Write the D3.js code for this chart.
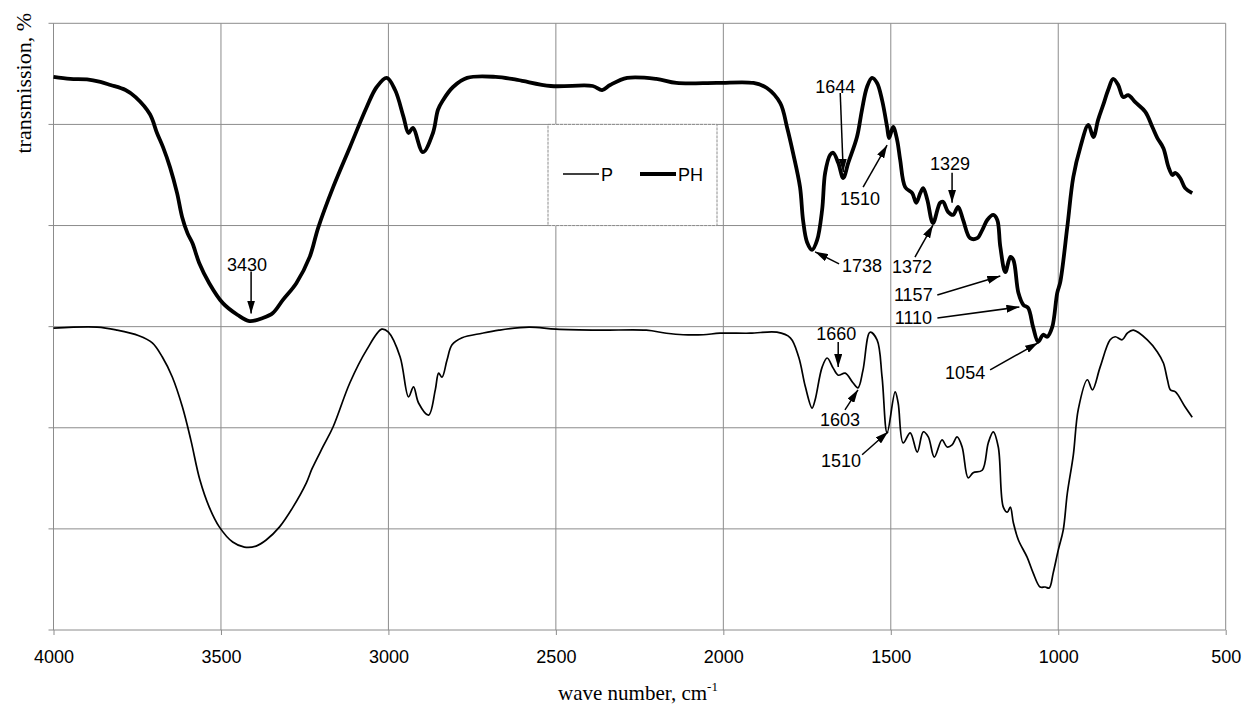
<!DOCTYPE html>
<html>
<head>
<meta charset="utf-8">
<script src="https://cdn.jsdelivr.net/npm/d3@7"></script>
<style>
  body { margin: 0; background: #fff; }
  svg { display: block; }
</style>
</head>
<body>
<div id="chart"></div>
<script>
// IR spectra, wave number (cm-1) vs transmission (arbitrary %)
var xTicks = [4000, 3500, 3000, 2500, 2000, 1500, 1000, 500];
var yGrid = [0, 20, 40, 60, 80, 100, 120];

var seriesNames = ["P", "PH"];

// PH (thick line)
var specPH = [[4000,109.4],[3950,109.0],[3900,108.9],[3860,108.4],[3830,107.8],[3785,106.8],[3755,105.4],[3712,102.0],
  [3691,98.3],[3673,95.5],[3652,91.5],[3631,86.4],[3616,81.7],[3600,78.5],[3585,76.5],[3565,72.6],[3535,68.6],[3495,64.7],
  [3450,62.3],[3415,61.1],[3375,61.7],[3345,62.7],[3315,65.3],[3275,68.6],[3235,73.8],[3210,79.5],[3165,87.6],
  [3115,95.5],[3065,103.4],[3035,107.4],[3005,109.2],[2980,106.8],[2955,101.5],[2940,98.3],[2927,99.3],[2897,94.5],
  [2867,98.3],[2852,102.9],[2837,104.8],[2807,107.4],[2765,109.2],[2680,109.4],[2615,108.8],[2515,107.6],[2390,107.6],
  [2362,106.8],[2338,107.8],[2287,109.2],[2200,109.0],[2140,108.2],[2020,108.2],[1910,108.2],[1870,107.2],[1830,104.2],
  [1810,99.5],[1792,94.4],[1771,87.6],[1762,81.1],[1750,76.7],[1735,75.2],[1720,77.1],[1705,83.1],[1696,90.4],
  [1681,94.0],[1672,94.4],[1657,92.4],[1642,89.4],[1627,92.4],[1601,97.5],[1586,102.9],[1571,107.4],[1556,109.2],
  [1541,108.2],[1526,104.8],[1511,99.5],[1505,97.3],[1493,99.5],[1481,96.9],[1472,93.0],[1457,87.6],[1436,86.4],
  [1424,84.5],[1412,86.4],[1403,87.4],[1391,85.1],[1374,80.5],[1353,84.5],[1344,84.7],[1329,82.7],[1314,82.1],
  [1299,83.7],[1284,81.1],[1263,77.5],[1242,77.5],[1227,79.1],[1212,81.1],[1194,82.1],[1182,81.1],[1173,75.8],
  [1158,70.8],[1143,73.8],[1134,73.2],[1119,66.7],[1104,64.3],[1090,63.7],[1075,59.9],[1060,57.0],[1045,58.4],
  [1033,58.0],[1018,59.9],[1003,66.7],[994,68.8],[973,79.7],[955,89.6],[934,95.5],[910,99.9],[895,97.5],[881,100.9],
  [866,103.8],[851,106.8],[836,109.0],[821,107.8],[806,105.4],[791,105.8],[770,104.4],[740,102.5],[719,99.5],
  [704,97.3],[686,95.3],[671,91.6],[659,90.0],[651,90.4],[636,89.4],[621,87.4],[600,86.4]];

// P (thin line)
var specP = [[4000,59.7],[3870,59.9],[3810,59.3],[3745,58.2],[3705,56.8],[3675,54.0],[3645,50.0],[3615,44.1],
  [3590,37.6],[3563,29.7],[3535,24.3],[3505,20.4],[3465,17.4],[3430,16.4],[3395,16.6],[3365,17.8],[3325,20.4],
  [3285,24.3],[3245,29.1],[3228,31.9],[3195,36.3],[3165,40.2],[3115,48.9],[3065,55.4],[3020,59.5],[3000,58.9],[2965,54.0],
  [2940,46.1],[2925,48.1],[2910,44.9],[2880,42.5],[2860,47.5],[2850,50.8],[2840,50.0],[2825,53.4],[2810,56.4],
  [2780,57.8],[2720,58.7],[2670,59.3],[2580,59.9],[2500,59.5],[2370,59.3],[2230,59.3],[2170,58.7],[2120,58.4],
  [2060,58.4],[2010,58.7],[1920,58.7],[1840,58.9],[1800,57.8],[1775,54.0],[1755,48.1],[1735,43.9],[1726,45.5],
  [1705,52.0],[1690,53.8],[1672,51.8],[1657,50.4],[1636,50.8],[1613,48.9],[1598,47.9],[1583,51.4],[1562,58.9],
  [1541,57.4],[1526,50.0],[1511,39.0],[1487,47.1],[1478,44.9],[1463,37.0],[1442,39.0],[1421,35.2],[1403,39.2],
  [1388,38.2],[1370,34.2],[1347,37.6],[1332,36.2],[1317,36.6],[1302,38.2],[1287,36.2],[1269,30.1],[1254,31.1],
  [1227,31.6],[1209,37.0],[1194,39.2],[1179,36.2],[1164,24.3],[1152,23.3],[1143,24.3],[1134,21.2],[1119,17.8],
  [1093,14.4],[1075,11.3],[1054,8.5],[1039,8.5],[1027,8.3],[1015,11.3],[1000,15.8],[985,19.8],[973,27.0],
  [955,34.6],[940,43.7],[913,49.5],[898,47.5],[875,52.0],[845,57.4],[830,58.0],[809,57.4],[794,58.7],[776,59.3],
  [734,57.4],[704,55.0],[686,52.8],[674,49.5],[665,47.5],[650,47.1],[621,44.1],[600,42.1]];

// peak labels: arrow tip on the curve (wn, t), tail and text given as pixel offsets from the tip
var peakLabels = [
  {label:"3430", wn:3410, t:62.6, tail:[0,-42], text:[-4,-49]},
  {label:"1644", wn:1642, t:90.6, tail:[-3,-79], text:[-8,-85]},
  {label:"1510", wn:1511, t:95.9, tail:[-24,42], text:[-27,54]},
  {label:"1329", wn:1317, t:84.5, tail:[0,-30], text:[-2,-39]},
  {label:"1372", wn:1374, t:80.1, tail:[-18,32], text:[-21,42]},
  {label:"1738", wn:1726, t:74.8, tail:[24,12], text:[47,14]},
  {label:"1157", wn:1173, t:70.0, tail:[-63,19], text:[-87,19]},
  {label:"1110", wn:1116, t:63.9, tail:[-82,11], text:[-106,11]},
  {label:"1054", wn:1060, t:56.8, tail:[-48,27], text:[-73,30]},
  {label:"1660", wn:1657, t:52.0, tail:[0,-25], text:[-2,-33]},
  {label:"1603", wn:1598, t:47.5, tail:[-13,20], text:[-18,30]},
  {label:"1510", wn:1508, t:39.2, tail:[-26,23], text:[-47,29]}
];

var W = 1243, H = 707;
var mLeft = 53.5, mRight = 1225.7, mTop = 23.3, mBottom = 630;

var svg = d3.select("#chart").append("svg")
  .attr("width", W).attr("height", H);

var x = d3.scaleLinear().domain([4000, 500]).range([mLeft, mRight]);
var y = d3.scaleLinear().domain([0, 120]).range([mBottom, mTop]);

var gridColor = "#8c8c8c";

// grid
var grid = svg.append("g").attr("id", "grid");
grid.selectAll("line.v")
  .data(xTicks).enter().append("line")
  .attr("class", "v")
  .attr("x1", function(d){ return x(d); })
  .attr("x2", function(d){ return x(d); })
  .attr("y1", mTop).attr("y2", mBottom)
  .style("stroke", gridColor).style("stroke-width", 1);
grid.selectAll("line.h")
  .data(yGrid).enter().append("line")
  .attr("class", "h")
  .attr("x1", mLeft - 5).attr("x2", mRight)
  .attr("y1", function(d){ return y(d); })
  .attr("y2", function(d){ return y(d); })
  .style("stroke", gridColor).style("stroke-width", 1);

// x axis
var xAxis = d3.axisBottom(x)
  .tickValues(xTicks)
  .tickSize(5)
  .tickPadding(15)
  .tickFormat(d3.format("d"));

var gx = svg.append("g")
  .attr("transform", "translate(0," + mBottom + ")")
  .call(xAxis);
gx.select(".domain").remove();
gx.selectAll(".tick line").style("stroke", gridColor);
gx.selectAll(".tick text")
  .style("font-family", "'Liberation Sans', Arial, sans-serif")
  .style("font-size", "18px")
  .style("fill", "#000");

// axis titles
var xt = svg.append("text")
  .attr("x", 638).attr("y", 700)
  .attr("text-anchor", "middle")
  .style("font-family", "'Liberation Serif', 'Times New Roman', serif")
  .style("font-size", "21px")
  .text("wave number, cm");
xt.append("tspan")
  .attr("dy", -9)
  .style("font-size", "13px")
  .text("-1");

svg.append("text")
  .attr("transform", "translate(31,13) rotate(-90)")
  .attr("text-anchor", "end")
  .style("font-family", "'Liberation Serif', 'Times New Roman', serif")
  .style("font-size", "22px")
  .text("transmission, %");

// spectra
var line = d3.line()
  .x(function(d){ return x(d[0]); })
  .y(function(d){ return y(d[1]); })
  .curve(d3.curveCatmullRom.alpha(0.5));

svg.append("path")
  .datum(specP)
  .attr("d", line)
  .style("fill", "none")
  .style("stroke", "#000")
  .style("stroke-width", 1.7)
  .style("stroke-linejoin", "round");

svg.append("path")
  .datum(specPH)
  .attr("d", line)
  .style("fill", "none")
  .style("stroke", "#000")
  .style("stroke-width", 3.8)
  .style("stroke-linejoin", "round");

// legend
var lg = svg.append("g").attr("id", "legend");
lg.append("rect")
  .attr("x", 548).attr("y", y(100))
  .attr("width", 169).attr("height", y(80) - y(100))
  .style("fill", "#fff")
  .style("stroke", gridColor)
  .style("stroke-dasharray", "3,1");
var legItems = [
  {name: seriesNames[0], x0: 563, w: 1.7},
  {name: seriesNames[1], x0: 640, w: 3.8}
];
legItems.forEach(function(it){
  lg.append("line")
    .attr("x1", it.x0).attr("x2", it.x0 + 36)
    .attr("y1", 174).attr("y2", 174)
    .style("stroke", "#000").style("stroke-width", it.w);
  lg.append("text")
    .attr("x", it.x0 + 38).attr("y", 180.5)
    .style("font-family", "'Liberation Sans', Arial, sans-serif")
    .style("font-size", "18px")
    .text(it.name);
});

// arrows + labels
svg.append("defs").append("marker")
  .attr("id", "head")
  .attr("viewBox", "0 0 13 8")
  .attr("refX", 13).attr("refY", 4)
  .attr("markerWidth", 13).attr("markerHeight", 8)
  .attr("markerUnits", "userSpaceOnUse")
  .attr("orient", "auto")
  .append("path")
  .attr("d", "M0,0L13,4L0,8Z")
  .style("fill", "#000");

var ann = svg.append("g").attr("id", "peaks")
  .selectAll("g").data(peakLabels).enter().append("g");

ann.append("line")
  .attr("x1", function(d){ return x(d.wn) + d.tail[0]; })
  .attr("y1", function(d){ return y(d.t) + d.tail[1]; })
  .attr("x2", function(d){ return x(d.wn); })
  .attr("y2", function(d){ return y(d.t); })
  .style("stroke", "#000").style("stroke-width", 1.5)
  .attr("marker-end", "url(#head)");

ann.append("text")
  .attr("x", function(d){ return x(d.wn) + d.text[0]; })
  .attr("y", function(d){ return y(d.t) + d.text[1]; })
  .attr("text-anchor", "middle")
  .attr("dominant-baseline", "central")
  .style("font-family", "'Liberation Sans', Arial, sans-serif")
  .style("font-size", "18px")
  .text(function(d){ return d.label; });
</script>
</body>
</html>
